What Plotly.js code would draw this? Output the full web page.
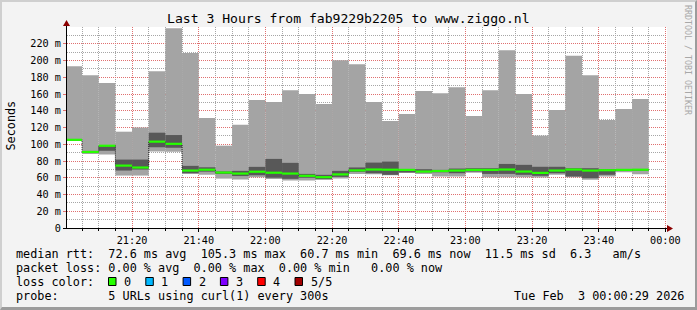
<!DOCTYPE html>
<html><head><meta charset="utf-8">
<script src="https://cdn.plot.ly/plotly-3.0.1.min.js"></script>
<style>
html,body{margin:0;padding:0;background:#f3f3f3;overflow:hidden;}
#wrap{position:relative;width:697px;height:310px;}
#chart{width:697px;height:310px;}
#chart .gridlayer path, #chart .minor-gridlayer path{shape-rendering:crispEdges !important;}
#frame{position:absolute;left:0;top:0;width:697px;height:310px;box-sizing:border-box;border-style:solid;border-width:2px 2px 3px 2px;border-color:#cfcfcf #9c9c9c #9c9c9c #cfcfcf;pointer-events:none;}
</style></head><body>
<div id="wrap"><div id="chart"></div><div id="frame"></div></div>
<script>
// ---- data (ms) ----
const slotStart = ['21:00','21:05','21:10','21:15','21:20','21:25','21:30','21:35','21:40','21:45',
  '21:50','21:55','22:00','22:05','22:10','22:15','22:20','22:25','22:30','22:35',
  '22:40','22:45','22:50','22:55','23:00','23:05','23:10','23:15','23:20','23:25',
  '23:30','23:35','23:40','23:45','23:50'];
const pingMin = [104.0,88.5,87.8,62.6,62.6,91.2,91.0,64.5,63.5,59.0,
  58.0,60.7,58.5,56.7,56.7,57.5,59.0,64.5,64.2,63.0,
  66.0,64.6,61.5,61.5,66.0,60.7,60.7,60.5,60.3,63.5,
  60.5,57.5,61.5,66.5,64.3];
const ping2 = [104.5,90.0,92.2,68.6,69.8,96.4,95.8,65.5,67.3,64.5,
  62.0,63.0,60.0,58.7,60.0,58.3,61.0,67.0,65.4,63.5,
  66.2,66.5,66.5,65.4,67.4,64.6,64.6,63.5,62.3,65.4,
  61.5,59.5,63.5,68.5,68.5];
const median = [105.3,90.8,98.2,74.5,72.2,103.1,100.5,68.6,69.6,66.2,
  65.0,67.2,66.0,65.0,62.3,60.7,64.0,68.8,69.8,69.6,
  69.4,67.4,68.0,68.6,69.4,69.4,69.8,67.4,65.8,68.6,
  69.8,68.6,69.0,69.4,69.6];
const ping4 = [106.0,92.0,99.0,81.7,81.7,113.8,111.0,74.2,72.5,67.5,
  68.2,73.0,82.5,77.8,64.6,63.5,68.2,72.3,78.1,79.3,
  70.0,70.2,69.4,71.0,71.4,71.4,76.5,75.4,73.1,73.1,
  71.4,71.4,70.2,69.8,70.0];
const pingMax = [193.2,182.5,173.0,115.0,120.0,187.3,238.5,209.0,131.3,98.3,
  123.4,152.7,150.4,164.6,159.9,148.0,200.4,195.6,150.4,127.7,
  136.0,163.5,161.0,168.2,133.7,164.6,212.3,160.0,110.3,140.8,
  205.6,182.5,128.9,142.0,153.9];
const yTickValues = [0,20,40,60,80,100,120,140,160,180,200,220];
const yTickLabels = ['0','20 m','40 m','60 m','80 m','100 m','120 m','140 m','160 m','180 m','200 m','220 m'];
const lossLabels = ['0','1','2','3','4','5/5'];
const lossColors = ['#26ff00','#00b8ff','#0059ff','#7e00ff','#ff0000','#a10000'];
const titleText = 'Last 3 Hours from fab9229b2205 to www.ziggo.nl';
const legendRow1 = 'median rtt:  72.6 ms avg  105.3 ms max  60.7 ms min  69.6 ms now  11.5 ms sd  6.3   am/s';
const legendRow2 = 'packet loss: 0.00 % avg  0.00 % max  0.00 % min   0.00 % now';
const legendRow3 = 'loss color:';
const legendRow4 = 'probe:       5 URLs using curl(1) every 300s';
const stampText = 'Tue Feb  3 00:00:29 2026';
const watermark = 'RRDTOOL / TOBI OETIKER';

// ---- helpers ----
const STEP = 5*60*1000;
function toMs(hhmm, sec){ const p = hhmm.split(':').map(Number); const day = p[0] < 12 ? 3 : 2; return Date.UTC(2026,1,day,p[0],p[1],sec||0); }
const starts = slotStart.map(s => toMs(s));
const ends = starts.map(s => s + STEP);
const L = 67, W = 600, T = 27, H = 201, B = T + H;
function px(x){ return (x - L) / W; }
function py(y){ return (B - y) / H; }
function nb(s){ return s.replace(/ /g, '\u00a0'); }
const MONO = 'DejaVu Sans Mono';

// ---- traces ----
const smokeLight = { type:'bar', x:starts, base:pingMin, y:pingMax.map((v,i)=>v-pingMin[i]),
  width:STEP, offset:0, marker:{color:'#a4a4a4', line:{width:0}}, hoverinfo:'skip' };
const smokeDark = { type:'bar', x:starts, base:ping2, y:ping4.map((v,i)=>v-ping2[i]),
  width:STEP, offset:0, marker:{color:'#585858', line:{width:0}}, hoverinfo:'skip' };
const stepLine = { type:'scatter', mode:'lines', x:starts.concat([ends[ends.length-1]]),
  y:median.concat([median[median.length-1]]), line:{shape:'hv', color:'#202020', width:1, dash:'1px,1px'}, hoverinfo:'skip' };
const gx = [], gy = [];
starts.forEach((s,i)=>{ gx.push(s, ends[i], null); gy.push(median[i], median[i], null); });
const greenLine = { type:'scatter', mode:'lines', x:gx, y:gy, line:{color:lossColors[0], width:2.2}, connectgaps:false, hoverinfo:'skip' };

// ---- annotations ----
const ann = [];
function txt(text, x, y, opts){ ann.push(Object.assign({ text:nb(text), xref:'paper', yref:'paper', x:px(x), y:py(y),
  xanchor:'left', yanchor:'middle', showarrow:false, borderpad:0, font:{family:MONO, size:11.8, color:'#000'} }, opts||{})); }
txt(titleText, 348, 19, {xanchor:'center', font:{family:MONO, size:13.1, color:'#000'}});
txt('Seconds', 10.5, 126, {xanchor:'center', textangle:-90});
txt(watermark, 688, 60, {xanchor:'center', textangle:90, font:{family:MONO, size:8.3, color:'#a8a8a8'}});
txt(legendRow1, 15, 254);
txt(legendRow2, 15, 268);
txt(legendRow3, 15, 281.5);
txt(legendRow4, 15, 295.5);
txt(stampText, 512.5, 295.5);

const shapes = [];
lossLabels.forEach((lab,i)=>{
  const bx = 108.5 + i*37.3;
  shapes.push({type:'rect', xref:'paper', yref:'paper', x0:px(bx), x1:px(bx+7.5), y0:py(285.5), y1:py(277.5),
    fillcolor:lossColors[i], line:{color:'#000', width:1}, layer:'above'});
  txt(lab, bx+14.5, 281.5);
});
// axis lines + arrows
shapes.push({type:'line', xref:'paper', yref:'paper', x0:px(66.5), x1:px(66.5), y0:py(228.5), y1:py(24), line:{color:'#000', width:1}, layer:'above'});
shapes.push({type:'line', xref:'paper', yref:'paper', x0:px(63), x1:px(669), y0:py(228.5), y1:py(228.5), line:{color:'#000', width:1}, layer:'above'});
shapes.push({type:'path', xref:'paper', yref:'paper', layer:'above', fillcolor:'#8b0000', line:{width:0},
  path:`M ${px(66.5)} ${py(20)} L ${px(63)} ${py(26)} L ${px(70)} ${py(26)} Z`});
shapes.push({type:'path', xref:'paper', yref:'paper', layer:'above', fillcolor:'#8b0000', line:{width:0},
  path:`M ${px(673)} ${py(228.5)} L ${px(667)} ${py(225)} L ${px(667)} ${py(232)} Z`});

const layout = {
  width:697, height:310, margin:{l:L, r:697-L-W, t:T, b:310-B, pad:0},
  paper_bgcolor:'#f3f3f3', plot_bgcolor:'#ffffff', showlegend:false, barmode:'overlay',
  font:{family:MONO, size:10.2, color:'#000'},
  xaxis:{ type:'date', range:[toMs('21:00',29), toMs('00:00',29)], tickmode:'linear', tick0:toMs('21:20'), dtick:20*60*1000,
    tickformat:'%H:%M', showgrid:true, gridcolor:'#e07070', griddash:'1px,1px', gridwidth:1,
    ticks:'outside', ticklen:3, tickcolor:'#000', showline:false, zeroline:false, fixedrange:true,
    tickfont:{family:MONO, size:10.2, color:'#000'},
    minor:{ tickmode:'linear', tick0:toMs('21:20'), dtick:STEP, showgrid:true, gridcolor:'#a6a6a6', griddash:'1px,1px', gridwidth:1, ticks:'outside', ticklen:2, tickcolor:'#000' } },
  yaxis:{ range:[0,240], tickmode:'array', tickvals:yTickValues, ticktext:yTickLabels,
    showgrid:true, gridcolor:'#e07070', griddash:'1px,1px', gridwidth:1,
    ticks:'outside', ticklen:3, tickcolor:'#e07070', showline:false, zeroline:false, fixedrange:true,
    tickfont:{family:MONO, size:10.2, color:'#000'},
    minor:{ tickmode:'linear', tick0:0, dtick:10, showgrid:true, gridcolor:'#a6a6a6', griddash:'1px,1px', gridwidth:1 } },
  annotations:ann, shapes:shapes
};
Plotly.newPlot('chart', [smokeLight, smokeDark, stepLine, greenLine], layout, {staticPlot:true, displayModeBar:false});
</script>
</body></html>
